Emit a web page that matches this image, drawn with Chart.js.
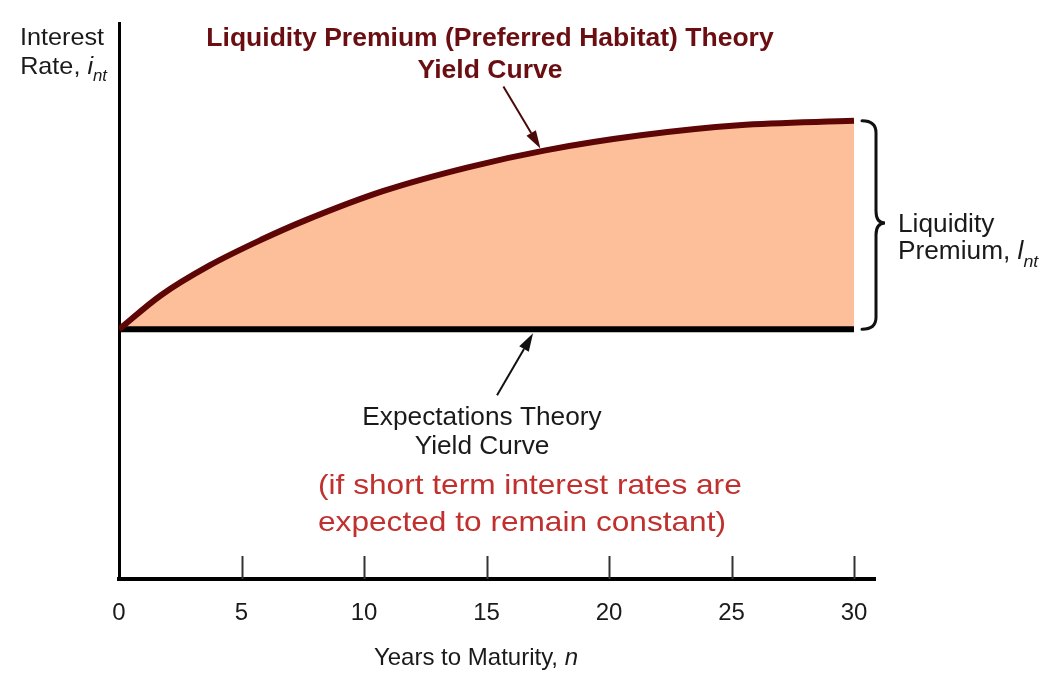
<!DOCTYPE html>
<html>
<head>
<meta charset="utf-8">
<script src="https://cdn.jsdelivr.net/npm/chart.js@4.4.1/dist/chart.umd.min.js"></script>
<style>
html,body{margin:0;padding:0;background:#fff;}
#wrap{width:1062px;height:685px;position:relative;}
</style>
</head>
<body>
<div id="wrap"><canvas id="c" width="1062" height="685"></canvas></div>
<script>
// ---- data ----
const maturityYears = [0, 1.7, 3.7, 5.8, 7.6, 10.8, 14.2, 17.4, 21.3, 25.3, 30];
const liquidityPremiumRates = [4.49, 5.1, 5.64, 6.1, 6.45, 6.98, 7.4, 7.71, 7.98, 8.16, 8.24];
const expectationsYears = [0, 30];
const expectationsRates = [4.49, 4.49];
const xTickValues = [0, 5, 10, 15, 20, 25, 30];

const FONT = '"Liberation Sans", Arial, Helvetica, sans-serif';
const DARKRED = '#6a0e12';
const CURVE = '#5e0505';
const PEACH = '#fdbf9a';
const RED = '#c0302e';

function drawParts(ctx, parts, x, y, align, sx, color) {
  ctx.save();
  ctx.fillStyle = color;
  ctx.textBaseline = 'alphabetic';
  ctx.textAlign = 'left';
  let total = 0;
  parts.forEach(p => { ctx.font = p.font; p.w = ctx.measureText(p.t).width; total += p.w; });
  const tw = total * sx;
  const start = align === 'center' ? x - tw / 2 : (align === 'right' ? x - tw : x);
  ctx.translate(start, y);
  ctx.scale(sx, 1);
  let cx = 0;
  parts.forEach(p => { ctx.font = p.font; ctx.fillText(p.t, cx, p.dy || 0); cx += p.w; });
  ctx.restore();
}

function arrow(ctx, x1, y1, x2, y2, color) {
  const ang = Math.atan2(y2 - y1, x2 - x1);
  const L = 18, W = 5.5;
  const bx = x2 - L * Math.cos(ang), by = y2 - L * Math.sin(ang);
  ctx.save();
  ctx.strokeStyle = color; ctx.fillStyle = color; ctx.lineWidth = 2;
  ctx.beginPath(); ctx.moveTo(x1, y1); ctx.lineTo(bx, by); ctx.stroke();
  ctx.beginPath();
  ctx.moveTo(x2, y2);
  ctx.lineTo(bx + W * Math.sin(ang), by - W * Math.cos(ang));
  ctx.lineTo(bx - W * Math.sin(ang), by + W * Math.cos(ang));
  ctx.closePath(); ctx.fill();
  ctx.restore();
}

function curveValueAt(year) {
  for (let i = 1; i < maturityYears.length; i++) {
    if (year <= maturityYears[i]) {
      const t = (year - maturityYears[i - 1]) / (maturityYears[i] - maturityYears[i - 1]);
      return liquidityPremiumRates[i - 1] + t * (liquidityPremiumRates[i] - liquidityPremiumRates[i - 1]);
    }
  }
  return liquidityPremiumRates[liquidityPremiumRates.length - 1];
}

const annotations = {
  id: 'annotations',
  afterDraw(chart) {
    const ctx = chart.ctx;
    const xs = chart.scales.x, ys = chart.scales.y;
    const axisY = chart.chartArea.bottom;

    // inward tick marks on x axis
    ctx.save();
    ctx.strokeStyle = '#333'; ctx.lineWidth = 2;
    xTickValues.forEach(v => {
      if (v === 0) return;
      const px = Math.round(xs.getPixelForValue(v)) + 0.5;
      ctx.beginPath(); ctx.moveTo(px, axisY); ctx.lineTo(px, axisY - 23); ctx.stroke();
    });
    ctx.restore();

    const TXT = '#1a1a1a';
    // y axis title
    const n24 = '24px ' + FONT, i24 = 'italic 24px ' + FONT, i16 = 'italic 16px ' + FONT;
    drawParts(ctx, [{t: 'Interest', font: n24}], 104, 45, 'right', 1.05, TXT);
    drawParts(ctx, [{t: 'Rate, ', font: n24}, {t: 'i', font: i24}, {t: 'nt', font: i16, dy: 7}], 107, 74, 'right', 1.05, TXT);

    // x axis title
    drawParts(ctx, [{t: 'Years to Maturity, ', font: n24}, {t: 'n', font: i24}], 476, 665, 'center', 1.0, TXT);

    // top title
    const b26 = 'bold 26px ' + FONT;
    drawParts(ctx, [{t: 'Liquidity Premium (Preferred Habitat) Theory', font: b26}], 490, 46, 'center', 1.02, DARKRED);
    drawParts(ctx, [{t: 'Yield Curve', font: b26}], 490, 78, 'center', 1.02, DARKRED);

    // arrow to liquidity premium curve
    const t1x = xs.getPixelForValue(17.2), t1y = ys.getPixelForValue(curveValueAt(17.2)) - 3;
    arrow(ctx, t1x - 37, t1y - 62, t1x, t1y, '#4a0a0a');

    // arrow to expectations curve
    const t2x = xs.getPixelForValue(16.9), t2y = ys.getPixelForValue(expectationsRates[0]) + 4;
    arrow(ctx, t2x - 36, t2y + 62, t2x, t2y, '#111');

    // expectations labels
    const n25 = '25px ' + FONT;
    drawParts(ctx, [{t: 'Expectations Theory', font: n25}], 482, 425, 'center', 1.05, TXT);
    drawParts(ctx, [{t: 'Yield Curve', font: n25}], 482, 454, 'center', 1.05, TXT);
    const r28 = '28px ' + FONT;
    drawParts(ctx, [{t: '(if short term interest rates are', font: r28}], 318, 494, 'left', 1.13, RED);
    drawParts(ctx, [{t: 'expected to remain constant)', font: r28}], 318, 531, 'left', 1.13, RED);

    // brace
    const bx = xs.getPixelForValue(30);
    const yTop = ys.getPixelForValue(liquidityPremiumRates[liquidityPremiumRates.length - 1]);
    const yBot = ys.getPixelForValue(expectationsRates[1]);
    const yMid = (yTop + yBot) / 2 - 2;
    const x0 = bx + 8, xv = bx + 22, xt = bx + 31, r = 12;
    ctx.save();
    ctx.strokeStyle = '#111'; ctx.lineWidth = 3; ctx.lineCap = 'round';
    ctx.beginPath();
    ctx.moveTo(x0, yTop);
    ctx.quadraticCurveTo(xv, yTop, xv, yTop + r);
    ctx.lineTo(xv, yMid - r);
    ctx.quadraticCurveTo(xv, yMid, xt, yMid);
    ctx.quadraticCurveTo(xv, yMid, xv, yMid + r);
    ctx.lineTo(xv, yBot - r);
    ctx.quadraticCurveTo(xv, yBot, x0, yBot);
    ctx.stroke();
    ctx.restore();

    // right labels
    drawParts(ctx, [{t: 'Liquidity', font: n25}], 898, 232, 'left', 1.05, TXT);
    drawParts(ctx, [{t: 'Premium, ', font: n25}, {t: 'l', font: 'italic 25px ' + FONT}, {t: 'nt', font: 'italic 17px ' + FONT, dy: 8}], 898, 259, 'left', 1.05, TXT);
  }
};

const premiumPoints = maturityYears.map((x, i) => ({x, y: liquidityPremiumRates[i]}));
const expectationPoints = expectationsYears.map((x, i) => ({x, y: expectationsRates[i]}));

new Chart(document.getElementById('c'), {
  type: 'line',
  data: {
    datasets: [
      {
        label: 'Liquidity Premium (Preferred Habitat) Theory Yield Curve',
        data: premiumPoints,
        borderColor: CURVE,
        borderWidth: 6,
        backgroundColor: PEACH,
        fill: {target: 1},
        cubicInterpolationMode: 'monotone',
        pointRadius: 0,
        borderCapStyle: 'butt'
      },
      {
        label: 'Expectations Theory Yield Curve',
        data: expectationPoints,
        borderColor: '#000',
        borderWidth: 6,
        fill: false,
        pointRadius: 0
      }
    ]
  },
  options: {
    responsive: false,
    animation: false,
    devicePixelRatio: 1,
    layout: {padding: {top: 23, right: 187, left: 0, bottom: 0}},
    plugins: {legend: {display: false}, tooltip: {enabled: false}, filler: {drawTime: 'beforeDatasetsDraw'}},
    scales: {
      x: {
        type: 'linear',
        min: 0,
        max: 30.857,
        afterFit: s => { s.height = 106; },
        afterBuildTicks: s => { s.ticks = xTickValues.map(v => ({value: v})); },
        grid: {display: false, drawTicks: false},
        border: {display: true, color: '#000', width: 4},
        ticks: {color: '#1a1a1a', font: {family: FONT, size: 24}, padding: 20, maxRotation: 0, autoSkip: false}
      },
      y: {
        type: 'linear',
        min: 0,
        max: 10,
        afterFit: s => { s.width = 119; },
        grid: {display: false, drawTicks: false},
        border: {display: true, color: '#000', width: 3},
        ticks: {display: false}
      }
    }
  },
  plugins: [annotations]
});
</script>
</body>
</html>
